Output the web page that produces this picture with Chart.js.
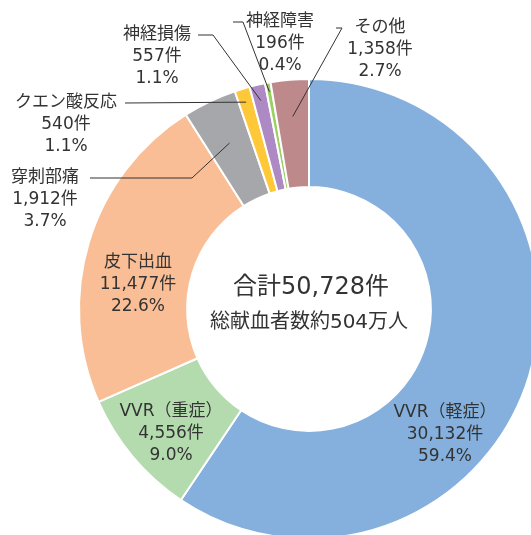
<!DOCTYPE html>
<html>
<head>
<meta charset="utf-8">
<script src="https://cdn.jsdelivr.net/npm/chart.js@4.4.1/dist/chart.umd.min.js"></script>
<style>
  html, body { margin: 0; padding: 0; background: #fff; overflow: hidden; }
  #wrap { position: relative; width: 560px; height: 560px; }
</style>
</head>
<body>
<div id="wrap"><canvas id="chart" width="560" height="560"></canvas></div>
<script>
// data
const categories = ['VVR（軽症）', 'VVR（重症）', '皮下出血', '穿刺部痛', 'クエン酸反応', '神経損傷', '神経障害', 'その他'];
const counts = [30132, 4556, 11477, 1912, 540, 557, 196, 1358];
const percents = ['59.4%', '9.0%', '22.6%', '3.7%', '1.1%', '1.1%', '0.4%', '2.7%'];
const totalLabel = '合計50,728件';
const subLabel = '総献血者数約504万人';

const colors = ['#85B0DD', '#B3DBAE', '#F9BE96', '#A6A7AA', '#FFC838', '#AD8AC3', '#9DD064', '#BE898B'];
// latin from DejaVu (wide digits), kanji fall back to Noto CJK
const FONT = "'DejaVu Sans', 'Noto Sans CJK JP', sans-serif";

function fmt(n) {
    return n.toLocaleString('en-US') + '件';
}

// label placement: inside labels at (x, y) of first line; outside ones have a leader line
const labelLayout = [
    { x: 445, y: 413 },
    { x: 171, y: 412 },
    { x: 138, y: 263 },
    { x: 45, y: 178, line: [[90, 178], [192, 178]], anchorR: 0.80 },
    { x: 66, y: 103, line: [[125, 103]], anchorR: 0.94 },
    { x: 157, y: 35, line: [[198, 35], [213, 35]], anchorR: 0.93 },
    { x: 280, y: 22, line: [[233, 22], [243, 22]], anchorR: 0.96 },
    { x: 380, y: 28, line: [[336, 28], [342, 28]], anchorR: 0.84 }
];

const labelPlugin = {
    id: 'labelPlugin',
    afterDatasetsDraw(chart) {
        const ctx = chart.ctx;
        const arcs = chart.getDatasetMeta(0).data;
        ctx.save();
        ctx.fillStyle = '#333';
        ctx.textAlign = 'center';
        ctx.textBaseline = 'middle';

        arcs.forEach((arc, i) => {
            const L = labelLayout[i];
            const lines = [categories[i], fmt(counts[i]), percents[i]];
            ctx.font = '17px ' + FONT;
            lines.forEach((t, k) => ctx.fillText(t, L.x, L.y + k * 22));

            if (L.line) {
                const mid = (arc.startAngle + arc.endAngle) / 2;
                const r = arc.outerRadius * L.anchorR;
                const ax = arc.x + Math.cos(mid) * r;
                const ay = arc.y + Math.sin(mid) * r;
                ctx.strokeStyle = '#333';
                ctx.lineWidth = 1;
                ctx.beginPath();
                ctx.moveTo(L.line[0][0], L.line[0][1]);
                for (let k = 1; k < L.line.length; k++) ctx.lineTo(L.line[k][0], L.line[k][1]);
                ctx.lineTo(ax, ay);
                ctx.stroke();
            }
        });

        // center text
        const cx = arcs[0].x, cy = arcs[0].y;
        ctx.font = '24px ' + FONT;
        ctx.fillText(totalLabel, cx + 2, cy - 21);
        ctx.font = '20px ' + FONT;
        ctx.fillText(subLabel, cx, cy + 14);
        ctx.restore();
    }
};

new Chart(document.getElementById('chart'), {
    type: 'doughnut',
    data: {
        labels: categories,
        datasets: [{
            data: counts,
            backgroundColor: colors,
            borderColor: '#fff',
            borderWidth: 2
        }]
    },
    options: {
        responsive: false,
        animation: false,
        cutout: '53%',
        layout: { padding: { left: 78, top: 78, right: 20, bottom: 20 } },
        plugins: {
            legend: { display: false },
            tooltip: { enabled: false }
        }
    },
    plugins: [labelPlugin]
});
</script>
</body>
</html>
